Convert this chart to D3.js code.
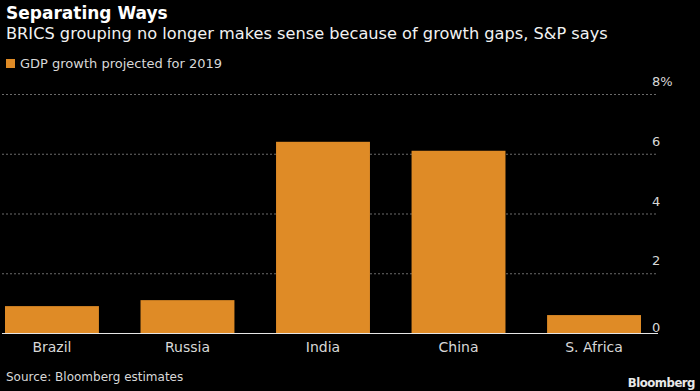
<!DOCTYPE html>
<html>
<head>
<meta charset="utf-8">
<script src="https://cdn.jsdelivr.net/npm/d3@7"></script>
<style>
  html, body { margin: 0; padding: 0; background: #000; }
  svg { display: block; }
  text { font-family: "DejaVu Sans", sans-serif; }
</style>
</head>
<body>
<div id="chart"></div>
<script>
// Data
const countries = ["Brazil", "Russia", "India", "China", "S. Africa"];
const gdpGrowth2019 = [0.9, 1.1, 6.4, 6.1, 0.6];
const yTicks = [0, 2, 4, 6, 8];
const seriesName = "GDP growth projected for 2019";

const width = 700, height = 391;
const barColor = "#df8b26";
const textColor = "#d8d8d8";

const svg = d3.select("#chart")
    .append("svg")
    .attr("width", width)
    .attr("height", height)
    .style("background", "#000");

const x = d3.scaleBand()
    .domain(countries)
    .range([5, 641])
    .paddingInner(0.307)
    .paddingOuter(0);

const y = d3.scaleLinear()
    .domain([0, 8])
    .range([333, 94]);

// Titles
svg.append("text")
    .attr("x", 6).attr("y", 19)
    .attr("fill", "#fff")
    .style("font-size", "17px")
    .style("font-weight", "bold")
    .text("Separating Ways");

svg.append("text")
    .attr("x", 6).attr("y", 39)
    .attr("fill", "#f2f2f2")
    .style("font-size", "16.2px")
    .text("BRICS grouping no longer makes sense because of growth gaps, S&P says");

// Legend
const legend = svg.append("g").attr("transform", "translate(6,59)");
legend.append("rect")
    .attr("width", 9).attr("height", 9)
    .attr("fill", barColor);
legend.append("text")
    .attr("x", 14).attr("y", 9)
    .attr("fill", textColor)
    .style("font-size", "13px")
    .text(seriesName);

// Gridlines (dotted), skip the zero line
svg.append("g")
    .selectAll("line")
    .data(yTicks.filter(d => d !== 0))
    .join("line")
    .attr("x1", 2).attr("x2", 658)
    .attr("y1", d => y(d) + 0.5).attr("y2", d => y(d) + 0.5)
    .attr("stroke", "#6a6a6a")
    .attr("stroke-width", 1)
    .attr("stroke-dasharray", "2,2");

// Tick labels on the right
svg.append("g")
    .selectAll("text")
    .data(yTicks)
    .join("text")
    .attr("x", 652)
    .attr("y", d => d === 0 ? y(d) - 1 : y(d) - 8)
    .attr("fill", textColor)
    .style("font-size", "13px")
    .text(d => d === 8 ? d + "%" : d);

// Bars
svg.append("g")
    .selectAll("rect")
    .data(countries)
    .join("rect")
    .attr("x", d => x(d))
    .attr("y", (d, i) => y(gdpGrowth2019[i]))
    .attr("width", x.bandwidth())
    .attr("height", (d, i) => y(0) - y(gdpGrowth2019[i]))
    .attr("fill", barColor);

// Baseline
svg.append("line")
    .attr("x1", 2).attr("x2", 658)
    .attr("y1", y(0) + 0.5).attr("y2", y(0) + 0.5)
    .attr("stroke", "#e6e6e6")
    .attr("stroke-width", 1);

// Category labels
svg.append("g")
    .selectAll("text")
    .data(countries)
    .join("text")
    .attr("x", d => x(d) + x.bandwidth() / 2)
    .attr("y", 352)
    .attr("text-anchor", "middle")
    .attr("fill", textColor)
    .style("font-size", "14px")
    .text(d => d);

// Footer
svg.append("text")
    .attr("x", 6).attr("y", 381)
    .attr("fill", textColor)
    .style("font-size", "12px")
    .text("Source: Bloomberg estimates");

svg.append("text")
    .attr("x", 695).attr("y", 387)
    .attr("text-anchor", "end")
    .attr("fill", "#e8e8e8")
    .style("font-family", "'DejaVu Sans Condensed', 'DejaVu Sans', sans-serif")
    .style("font-size", "13px")
    .style("font-weight", "bold")
    .style("letter-spacing", "-0.5px")
    .text("Bloomberg");
</script>
</body>
</html>
